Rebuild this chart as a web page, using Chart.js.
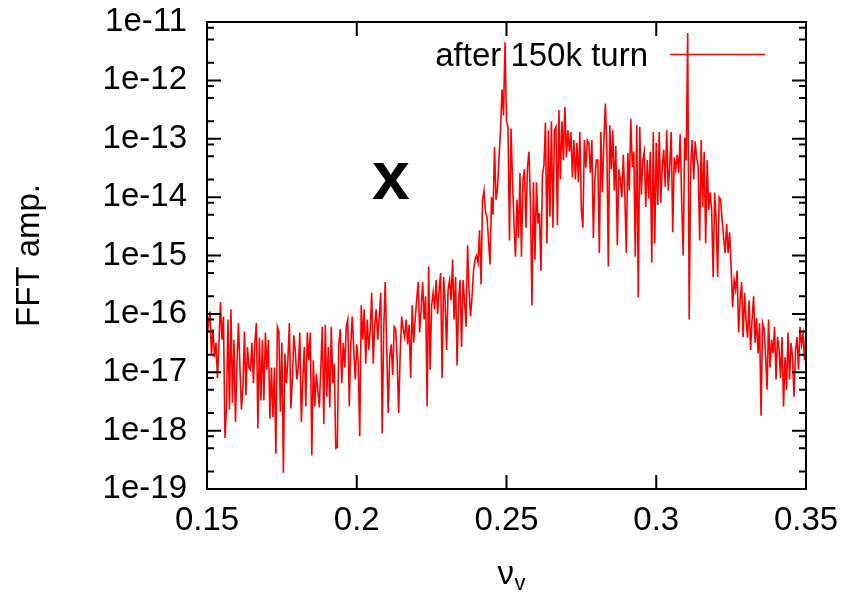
<!DOCTYPE html>
<html>
<head>
<meta charset="utf-8">
<title>FFT amplitude</title>
<script src="https://cdn.jsdelivr.net/npm/chart.js@4.4.1/dist/chart.umd.min.js"></script>
<style>
  html, body { margin: 0; padding: 0; background: #fff; }
  canvas { display: block; }
</style>
</head>
<body>
<canvas id="chart" width="846" height="592"></canvas>
<script>
'use strict';

// vertical tune spectrum, one FFT bin every 0.0005 starting at 0.15
const nuStart = 0.15;
const nuStep = 0.0005;
const fftAmp = [
  4e-17, 7e-17, 1.1e-16, 2e-17, 5.5e-17, 1.8e-17, 3.2e-17, 8e-18, 3.2e-17, 1.6e-16,
  3.6e-17, 9e-17, 7.5e-19, 2.5e-18, 8e-17, 2.3e-18, 1.2e-16, 3e-18, 3.6e-17, 1.4e-18,
  1.4e-17, 7e-17, 1.2e-17, 2.3e-18, 5.5e-18, 5e-17, 4e-18, 2.7e-17, 1.2e-17, 1.1e-17,
  3.2e-17, 6.5e-18, 3.4e-17, 7e-17, 1.1e-18, 3.9e-17, 3.3e-18, 3.6e-17, 3.3e-18, 4.8e-17,
  1.1e-17, 3.6e-17, 1.6e-18, 1.2e-17, 1.7e-18, 1.2e-17, 4e-19, 6e-17, 5e-17, 2.1e-18,
  3.2e-17, 1.9e-19, 2.1e-17, 6.5e-18, 1.6e-17, 7e-17, 2.4e-18, 7.5e-18, 4.3e-17, 2.2e-17,
  7.5e-18, 1.2e-17, 4.8e-17, 1.4e-18, 7.5e-18, 2.7e-17, 2.6e-18, 4.8e-17, 1.6e-17, 4.8e-17,
  3.8e-19, 1.6e-17, 2.6e-18, 9.5e-18, 5e-18, 2.5e-18, 1.2e-17, 6e-17, 1.3e-18, 6.5e-17,
  3.8e-18, 2.7e-17, 2.5e-18, 6e-17, 6.5e-18, 1.4e-17, 5e-19, 5.2e-19, 3e-17, 5.5e-17,
  6.5e-18, 3.2e-17, 1.2e-17, 6e-17, 8e-17, 2.6e-18, 3e-17, 9e-17, 2.4e-17, 7.5e-18,
  3e-17, 1.4e-17,
  8e-19, 1.4e-16, 3.6e-17, 1.2e-16, 1.4e-17, 8e-17, 2.4e-17, 5.5e-17, 2.3e-16, 1.4e-17,
  6.5e-17, 1.2e-16, 3.6e-17, 9e-17, 2.3e-16, 9e-19, 5.5e-17, 3.5e-16, 2.7e-17, 2e-18,
  1.8e-17, 3e-17, 9e-18, 6e-17, 5.5e-17, 1.6e-17, 2e-18, 2.1e-17, 9e-17, 5.5e-17,
  4e-17, 8e-17, 3e-17, 6.5e-17, 8e-18, 1.4e-16, 3.2e-17, 8e-17, 1.7e-16, 3.5e-16,
  4.8e-17, 1.2e-16, 3.5e-16, 8e-17, 2e-16, 2.6e-18, 6.5e-16, 1.1e-17, 1.4e-16, 2.3e-16,
  1.2e-16, 3.8e-16, 1e-16, 2.6e-16, 5e-16, 8e-18, 4.3e-16, 1.7e-16, 2.4e-17, 2.6e-16,
  3.8e-16, 1.7e-16, 8.5e-16, 8e-17, 4.3e-16, 1.3e-17, 1.7e-16, 3.8e-16, 2.7e-17, 3.8e-16,
  1.7e-16, 6e-17, 1.5e-15, 2.6e-16, 9e-17, 2e-16, 5.5e-16, 8.5e-16, 1e-15, 7.5e-16,
  2.7e-15, 3.2e-16, 9e-15, 1.3e-14, 5.5e-15, 4.5e-15, 1.8e-15, 7e-16, 1e-14, 5e-15,
  7.2e-14, 9e-15, 1.4e-14, 4.8e-14, 1.4e-13, 7e-13, 2.5e-13, 4.5e-12, 2e-13, 1.6e-13,
  1.8e-15, 1.5e-13, 2e-14, 3.5e-15, 9.5e-16, 9e-15, 2e-15, 2.6e-14, 9.5e-16, 2e-14,
  3e-14, 3e-15, 3.2e-14, 6e-14, 8e-15, 1.4e-16, 1.8e-14, 8.5e-16, 1.8e-14, 3.5e-15,
  5.3e-15, 5.5e-16, 2.4e-14, 3.5e-14, 1.9e-13, 1.6e-15, 1.4e-13, 4.6e-15, 2e-13, 3e-15,
  1.4e-13, 1.6e-13, 3.3e-15, 3.1e-13, 2e-14, 2e-13, 4.3e-14, 3.5e-13, 4.8e-14, 1.4e-13,
  6e-14, 1.3e-13, 2.2e-14, 9.5e-14, 2e-14, 8.5e-14, 1.8e-14, 1.3e-13, 6e-15, 3e-15,
  9.5e-14, 3.2e-14, 9.5e-14, 8.5e-14, 2.6e-14, 9.5e-14, 2e-15, 2e-14, 4.3e-14, 4.3e-14,
  1.1e-15, 1.3e-13, 1.2e-14, 8.5e-14, 4e-13, 7.5e-14, 6.5e-16, 1.7e-13, 3e-14, 1.4e-13,
  1.3e-14, 7.5e-14, 1.5e-15, 3e-14, 2e-14, 1e-14, 5.3e-14, 1.1e-14, 1.1e-15, 5.7e-14,
  1.3e-14, 2.2e-13, 3.3e-14, 6e-14, 9.5e-16, 1.7e-13, 1.9e-16, 1.6e-13, 1.1e-14, 4.3e-14,
  6e-14, 6.8e-15, 4.3e-14, 9.5e-15, 6e-14, 7.5e-16, 1.3e-13, 1.6e-15, 8.5e-14, 7.3e-15,
  1.3e-13, 8e-15, 3.3e-14, 6.5e-14, 1.5e-14, 1.4e-13, 1.3e-14, 3.5e-14, 1.3e-13, 2.5e-15,
  4.8e-14, 3e-14, 5.3e-14, 2.6e-14, 1.2e-13, 8e-15, 1e-15, 1.05e-13, 4.3e-14, 6.5e-12,
  8e-17, 3.3e-14, 9.5e-14, 2e-14, 9e-14, 4.8e-14, 3.3e-14, 1.8e-15, 9.5e-14, 6.8e-15,
  6e-14, 1.6e-15, 4.3e-14, 6e-15, 1.2e-14, 6e-15, 4.3e-16, 1.2e-14, 4e-15, 4.3e-16,
  1e-14, 9e-15, 4e-15, 2e-15, 1.1e-15, 3.5e-15, 1.1e-15, 2.5e-15, 6.5e-16, 1.3e-16,
  3.8e-16, 2.6e-16, 5.5e-16, 4.8e-17, 1.7e-16, 3.5e-16, 4e-17, 2.3e-16, 7.5e-17, 3.9e-17,
  1.7e-16, 2.4e-17, 8e-17, 2e-16, 3.2e-17, 8.5e-17, 2.1e-17, 7e-17, 1.8e-18, 7e-17,
  5.5e-17, 2e-17, 5e-18, 8e-17, 1.2e-17, 3.6e-17, 2.1e-17, 6e-17, 7.5e-18, 4e-17,
  2.4e-17, 8e-18, 4e-17, 2.6e-18, 1.8e-17, 5e-18, 4.8e-17, 7.5e-18, 3.2e-17, 1.8e-17,
  3.8e-18, 2.4e-17, 4e-17, 1.1e-17, 6e-17, 3e-17, 4.5e-17, 1.6e-17, 5.5e-17
];
const seriesLabel = 'after 150k turn';
const xTickValues = [0.15, 0.2, 0.25, 0.3, 0.35];
const yDecades = [-19, -18, -17, -16, -15, -14, -13, -12, -11];
const yMinorSteps = [2, 5, 8];
const markText = 'x';

const fontFamily = "'Liberation Sans', Arial, Helvetica, sans-serif";
Chart.defaults.font.family = fontFamily;
Chart.defaults.color = '#000';

let canvasElem = document.getElementById('chart');

let points = fftAmp.map((a, i) => ({ x: +(nuStart + i * nuStep).toFixed(4), y: a }));

// box border with inward major/minor ticks on all four sides
const framePlugin = {
  id: 'frameTicks',
  afterDatasetsDraw(chart) {
    const { ctx, chartArea: a, scales: { x, y } } = chart;
    ctx.save();
    ctx.strokeStyle = '#000';
    ctx.lineWidth = 2;
    ctx.strokeRect(a.left, a.top, a.right - a.left, a.bottom - a.top);
    ctx.beginPath();
    for (const d of yDecades) {
      const py = y.getPixelForValue(Math.pow(10, d));
      ctx.moveTo(a.left, py); ctx.lineTo(a.left + 14, py);
      ctx.moveTo(a.right, py); ctx.lineTo(a.right - 14, py);
      if (d === yDecades[yDecades.length - 1]) continue;
      for (const m of yMinorSteps) {
        const pm = y.getPixelForValue(m * Math.pow(10, d));
        ctx.moveTo(a.left, pm); ctx.lineTo(a.left + 7, pm);
        ctx.moveTo(a.right, pm); ctx.lineTo(a.right - 7, pm);
      }
    }
    for (const v of xTickValues) {
      const px = x.getPixelForValue(v);
      ctx.moveTo(px, a.bottom); ctx.lineTo(px, a.bottom - 14);
      ctx.moveTo(px, a.top); ctx.lineTo(px, a.top + 14);
    }
    ctx.stroke();
    ctx.restore();
  },
  afterDraw(chart) {
    const { ctx, chartArea: a } = chart;
    const ds = chart.data.datasets[0];
    ctx.save();
    ctx.fillStyle = '#000';

    // key: text on the left, line sample on the right
    ctx.font = '33px ' + fontFamily;
    ctx.textAlign = 'right';
    ctx.textBaseline = 'alphabetic';
    ctx.fillText(ds.label, 648, 66);
    ctx.strokeStyle = ds.borderColor;
    ctx.lineWidth = 1.3;
    ctx.beginPath();
    ctx.moveTo(670, 54.5);
    ctx.lineTo(765, 54.5);
    ctx.stroke();

    // x axis title nu with subscript v
    const cx = (a.left + a.right) / 2;
    ctx.textAlign = 'left';
    ctx.font = '33px ' + fontFamily;
    ctx.fillText('\u03bd', cx - 9, 584);
    ctx.font = '22px ' + fontFamily;
    ctx.fillText('v', cx + 8, 590);

    // big marker in the empty region
    ctx.font = 'bold 68px ' + fontFamily;
    ctx.textAlign = 'center';
    ctx.fillText(markText, 391, 199);
    ctx.restore();
  }
};

let chartObj = {
  type: 'line',
  data: {
    datasets: [{
      label: seriesLabel,
      data: points,
      borderColor: '#ff0000',
      borderWidth: 1.6,
      pointRadius: 0,
      tension: 0,
      fill: false
    }]
  },
  options: {
    responsive: false,
    animation: false,
    devicePixelRatio: 1,
    layout: { padding: { top: 22, right: 40, bottom: 0, left: 0 } },
    plugins: {
      legend: { display: false },
      tooltip: { enabled: false }
    },
    scales: {
      x: {
        type: 'linear',
        min: 0.15,
        max: 0.35,
        afterBuildTicks: (s) => { s.ticks = xTickValues.map(v => ({ value: v })); },
        afterFit: (s) => {
          s.height = 103;
          // end labels may hang past the frame
          s.paddingLeft = 0;
          s.paddingRight = 0;
        },
        ticks: {
          autoSkip: false,
          maxRotation: 0,
          padding: 12,
          font: { size: 33 },
          color: '#000',
          callback: (v) => String(v)
        },
        grid: { display: false, drawTicks: false },
        border: { display: false }
      },
      y: {
        type: 'logarithmic',
        min: 1e-19,
        max: 1e-11,
        afterBuildTicks: (s) => { s.ticks = yDecades.map(d => ({ value: Math.pow(10, d) })); },
        afterFit: (s) => {
          s.width = 207;
          s.paddingTop = 0;
          s.paddingBottom = 0;
        },
        ticks: {
          autoSkip: false,
          padding: 20,
          font: { size: 33 },
          color: '#000',
          callback: (v) => '1e' + Math.round(Math.log10(v))
        },
        grid: { display: false, drawTicks: false },
        border: { display: false },
        title: {
          display: true,
          text: 'FFT amp.',
          color: '#000',
          font: { size: 33 },
          padding: { top: 10, bottom: 0 }
        }
      }
    }
  },
  plugins: [framePlugin]
};

new Chart(canvasElem, chartObj); //eslint-disable-line
</script>
</body>
</html>
